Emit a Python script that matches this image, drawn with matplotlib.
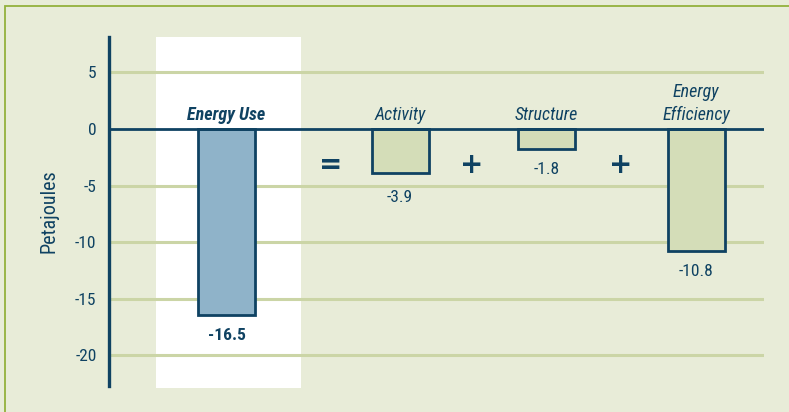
import matplotlib.pyplot as plt
from matplotlib.patches import Rectangle

# decomposition of the change in energy use (PJ)
categories = ['Energy Use', 'Activity', 'Structure', 'Energy\nEfficiency']
values = [-16.5, -3.9, -1.8, -10.8]
value_labels = ['-16.5', '-3.9', '-1.8', '-10.8']
operators = ['=', '+', '+']
yticks = [5, 0, -5, -10, -15, -20]

navy = '#0f4262'
bg = '#e8ecd8'
grid_col = '#cbd5a6'
fills = ['#8fb3c9', '#d4ddb8', '#d4ddb8', '#d4ddb8']

xpos = [0, 1.157, 2.133, 3.13]
op_x = [0.693, 1.637, 2.63]
label_gap = [1.15, 1.5, 1.15, 1.15]  # -3.9 sits a little lower to clear the -5 line

plt.rcParams['font.family'] = ['Roboto Condensed', 'DejaVu Sans']

fig = plt.figure(figsize=(7.89, 4.12), dpi=100)
fig.patch.set_facecolor(bg)
# thin green frame top/left
fig.patches.append(Rectangle((5 / 789, -0.1), 1.2, 1 - 6 / 412 + 0.1,
                             transform=fig.transFigure, fill=False,
                             edgecolor='#93b13c', linewidth=1.3))

ax = fig.add_axes([109 / 789, 1 - 386 / 412, 655 / 789, 349 / 412])
ax.set_facecolor(bg)
ax.set_xlim(-0.783, 3.583)
ax.set_ylim(-22.74, 8.14)

# white panel behind the first bar
ax.add_patch(Rectangle((-0.47, -22.9), 0.967, 31.04, facecolor='white',
                       edgecolor='none', zorder=0, clip_on=False))

for t in yticks:
    if t != 0:
        ax.axhline(t, color=grid_col, linewidth=2.2, zorder=1)
ax.axhline(0, color=navy, linewidth=2, zorder=3)

ax.bar(xpos, values, width=0.38, color=fills, edgecolor=navy, linewidth=2,
       zorder=2)

for i, (x, v, lab) in enumerate(zip(xpos, values, value_labels)):
    weight = 'bold' if i == 0 else 'normal'
    ax.text(x, v - label_gap[i], lab, ha='center', va='top', fontsize=12.5,
            color=navy, fontweight=weight)

for i, (x, cat) in enumerate(zip(xpos, categories)):
    weight = 'bold' if i == 0 else 'normal'
    ax.text(x, 0.4, cat, ha='center', va='bottom', fontsize=13,
            color=navy, style='italic', fontweight=weight, linespacing=1.35)

for x, op in zip(op_x, operators):
    ax.text(x, -3.2, op, ha='center', va='center', fontsize=20,
            color=navy, fontweight='bold', family='DejaVu Sans')

ax.set_yticks(yticks)
ax.set_yticklabels([str(t) for t in yticks], fontsize=12.5, color=navy)
ax.tick_params(axis='y', length=0, pad=9)
ax.set_xticks([])
for s in ['top', 'right', 'bottom']:
    ax.spines[s].set_visible(False)
ax.spines['left'].set_color(navy)
ax.spines['left'].set_linewidth(2.4)
ax.set_ylabel('Petajoules', fontsize=14.5, color=navy, labelpad=12)

plt.savefig('out.png', dpi=100, facecolor=bg)
plt.close()
